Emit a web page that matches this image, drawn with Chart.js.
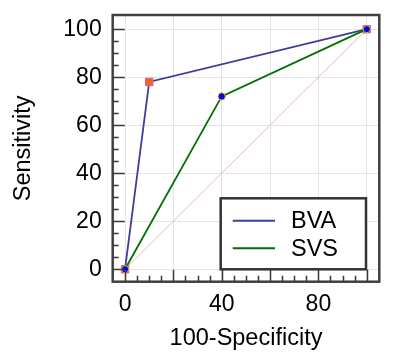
<!DOCTYPE html>
<html><head><meta charset="utf-8">
<script src="https://cdn.jsdelivr.net/npm/chart.js@4"></script>
<style>html,body{margin:0;padding:0;background:#fff;overflow:hidden}</style>
</head><body>
<canvas id="c" width="400" height="364"></canvas>
<script>
// ---- data ----
const seriesNames = ['BVA', 'SVS'];
const bvaX = [0, 10, 100];
const bvaY = [0, 78, 100];
const svsX = [0, 40, 100];
const svsY = [0, 72, 100];
const refX = [0, 100];
const refY = [0, 100];
const xGridTicks = [0, 20, 40, 60, 80, 100];
const xLabelTicks = [0, 40, 80];
const yTicks = [0, 20, 40, 60, 80, 100];
const minorStep = 5;
const majorStep = 20;
const xTitle = '100-Specificity';
const yTitle = 'Sensitivity';

const FONT = 'Liberation Sans, Arial, sans-serif';
const toPts = (xs, ys) => xs.map((x, i) => ({x: x, y: ys[i]}));

const framePlugin = {
  id: 'frame',
  afterDraw(chart) {
    const {ctx, chartArea: a, scales: {x, y}} = chart;
    ctx.save();
    // inner ticks
    ctx.strokeStyle = '#3a3a3a';
    ctx.lineWidth = 1.5;
    ctx.beginPath();
    for (let v = 0; v <= 100; v += minorStep) {
      const len = (v % majorStep === 0) ? 12 : 6;
      const py = Math.round(y.getPixelForValue(v)) + 0.5;
      ctx.moveTo(a.left, py); ctx.lineTo(a.left + len, py);
      const px = Math.round(x.getPixelForValue(v)) + 0.5;
      ctx.moveTo(px, a.bottom); ctx.lineTo(px, a.bottom - len);
    }
    ctx.stroke();
    // frame
    ctx.strokeStyle = '#404040';
    ctx.lineWidth = 2.5;
    ctx.strokeRect(a.left, a.top, a.right - a.left, a.bottom - a.top);
    // legend
    const lx = a.right - 13.3, lb = a.bottom - 12.4;
    const lw = 145.3, lh = 71;
    ctx.fillStyle = '#fff';
    ctx.fillRect(lx - lw, lb - lh, lw, lh);
    ctx.strokeStyle = '#333';
    ctx.lineWidth = 2.5;
    ctx.strokeRect(lx - lw, lb - lh, lw, lh);
    const ds = chart.data.datasets.filter(d => seriesNames.includes(d.label));
    ds.forEach((d, i) => {
      const cy = lb - lh + 22.4 + i * 27.6;
      ctx.strokeStyle = d.borderColor;
      ctx.lineWidth = 2;
      ctx.beginPath();
      ctx.moveTo(lx - lw + 12, cy); ctx.lineTo(lx - lw + 54.3, cy);
      ctx.stroke();
      ctx.fillStyle = '#000';
      ctx.font = '23.5px ' + FONT;
      ctx.textBaseline = 'middle';
      ctx.textAlign = 'left';
      ctx.fillText(d.label, lx - lw + 70.3, cy + 1);
    });
    ctx.restore();
  }
};

new Chart(document.getElementById('c'), {
  type: 'scatter',
  data: {
    datasets: [
      {
        label: seriesNames[0], data: toPts(bvaX, bvaY), showLine: true,
        borderColor: '#3d3d9e', borderWidth: 1.8,
        pointStyle: 'rect', pointRadius: 5.3, pointBackgroundColor: '#ff6010',
        pointBorderColor: '#c86a96', pointBorderWidth: 1, order: 1
      },
      {
        label: seriesNames[1], data: toPts(svsX, svsY), showLine: true,
        borderColor: '#007000', borderWidth: 1.8,
        pointStyle: 'circle', pointRadius: 3.6, pointBackgroundColor: '#0000ff',
        pointBorderColor: '#f0b800', pointBorderWidth: 1, order: 0
      },
      {
        label: 'ref', data: toPts(refX, refY), showLine: true,
        borderColor: '#e6b8b8', borderWidth: 1, pointRadius: 0, order: 2
      }
    ]
  },
  options: {
    responsive: false,
    animation: false,
    layout: {padding: {top: 15, right: 20.7, left: 0, bottom: 0}},
    plugins: {legend: {display: false}, tooltip: {enabled: false}},
    scales: {
      x: {
        type: 'linear', min: -5.1, max: 105.2,
        afterFit(s) { s.height = 82.3; s.paddingLeft = 0; s.paddingRight = 0; },
        afterBuildTicks(s) { s.ticks = xGridTicks.map(v => ({value: v})); },
        grid: {color: '#e4e4e4', lineWidth: 1, drawTicks: false},
        border: {display: false},
        ticks: {
          padding: 9.5, color: '#000', font: {family: FONT, size: 23},
          maxRotation: 0, autoSkip: false,
          callback: v => xLabelTicks.includes(v) ? String(v) : ''
        },
        title: {display: true, text: xTitle, color: '#000',
          font: {family: FONT, size: 23.5}, padding: {top: 0, bottom: 11}}
      },
      y: {
        type: 'linear', min: -5.2, max: 105.9,
        afterFit(s) { s.width = 112.7; s.paddingTop = 0; s.paddingBottom = 0; },
        afterBuildTicks(s) { s.ticks = yTicks.map(v => ({value: v})); },
        grid: {color: '#e4e4e4', lineWidth: 1, drawTicks: false},
        border: {display: false},
        ticks: {
          padding: 11, color: '#000', font: {family: FONT, size: 23},
          autoSkip: false, callback: v => String(v)
        },
        title: {display: true, text: yTitle, color: '#000',
          font: {family: FONT, size: 23.5}, padding: {top: 9, bottom: 0}}
      }
    }
  },
  plugins: [framePlugin]
});
</script>
</body></html>
